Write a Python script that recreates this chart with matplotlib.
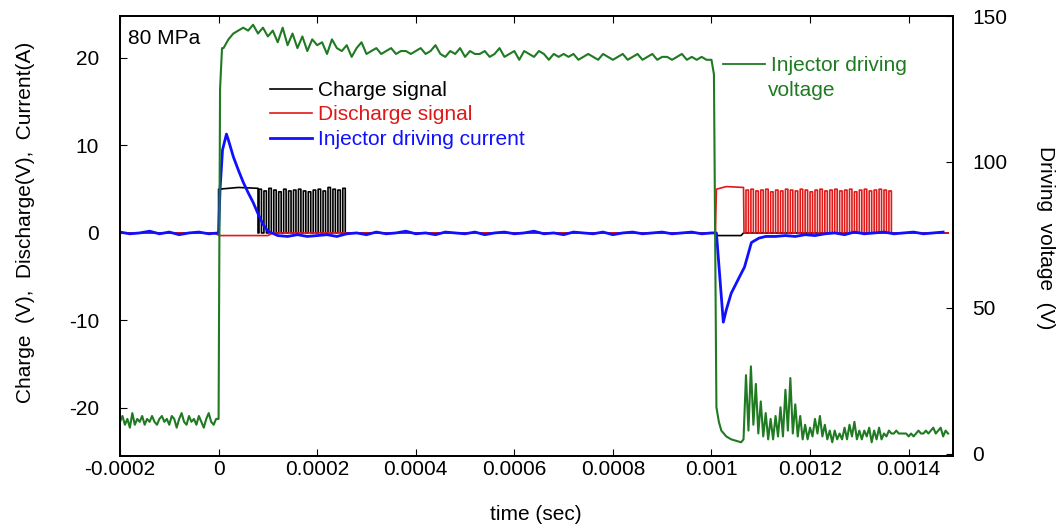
import numpy as np
import matplotlib
matplotlib.use("Agg")
import matplotlib.pyplot as plt
from matplotlib.lines import Line2D

plt.rcParams['font.family'] = ['Liberation Sans', 'DejaVu Sans']
plt.rcParams['font.size'] = 15
plt.rcParams['axes.unicode_minus'] = False

# values (80 MPa case)
# injector driving voltage (V), right axis
volt_pre = [11, 13, 10, 12, 9, 14, 10, 12, 11, 13, 10, 12, 11, 13, 11, 10, 12, 13, 11, 12,
            10, 13, 12, 9, 12, 14, 11, 10, 13, 11, 12, 10, 13, 11, 9, 12, 14, 11, 10, 12]  # -0.0002 .. -0.000005, step 5e-6
volt_rise_t = [0.0, 0.000003, 0.000007]
volt_rise = [12, 125, 139]
volt_on = [139, 142, 144, 145, 146, 145, 147, 144, 146, 143,
           145, 141, 146, 140, 144, 139, 143, 138, 142, 140,
           141, 137, 142, 139, 138, 140, 136, 139, 141, 137,
           138, 139, 137, 138, 139, 137, 138, 138, 137, 138,
           139, 137, 138, 140, 137, 136, 138, 137, 139, 136,
           138, 137, 137, 138, 136, 137, 139, 136, 137, 138,
           135, 138, 137, 136, 138, 137, 135, 137, 136, 137,
           136, 137, 135, 136, 137, 136, 135, 137, 136, 135,
           136, 137, 135, 136, 137, 135, 136, 137, 135, 136,
           136, 135, 136, 137, 135, 136, 135, 136, 135, 135]  # 0.00001 .. 0.001
volt_drop_t = [0.001005, 0.00101, 0.001015, 0.00102, 0.00103, 0.00104, 0.00105, 0.00106]
volt_drop = [130, 16, 11, 8, 6, 5, 4.5, 4]
volt_off = [5, 27, 8, 30, 10, 24, 7, 18, 6, 14,
            5, 12, 5, 13, 6, 16, 6, 22, 8, 26,
            7, 17, 6, 13, 5, 10, 5, 9, 6, 12,
            7, 13, 6, 10, 5, 8, 4, 8, 5, 7,
            5, 9, 5, 10, 6, 11, 5, 8, 5, 8,
            6, 9, 4, 8, 5, 9, 5, 7, 6, 8,
            7, 7, 8, 7, 7, 7, 7, 6, 7, 6,
            7, 8, 7, 7, 8, 7, 8, 9, 7, 8,
            9, 6, 8, 7]  # 0.001065 .. 0.00148, step 5e-6

# injector driving current (A)
cur_pre = [0.1, -0.1, 0.0, 0.2, -0.1, 0.1, -0.2, 0.0, 0.1, -0.1]  # -0.0002 .. -0.00002, step 2e-5
cur_rise_t = [0.0, 0.000003, 0.000008, 0.000016, 0.00002, 0.00003, 0.00004, 0.00005,
              0.00006, 0.00007, 0.00008, 0.00009, 0.0001]
cur_rise = [0.0, 5.0, 9.5, 11.3, 10.6, 8.7, 7.2, 5.8, 4.6, 3.5, 2.2, 1.0, 0.2]
cur_mid = [-0.3, -0.4, -0.2, -0.4, -0.3, -0.2, -0.4, -0.1, 0.0, -0.2,
           0.1, -0.1, 0.0, 0.2, -0.1, 0.0, -0.2, 0.1, 0.0, -0.1,
           0.1, -0.2, 0.0, 0.1, -0.1, 0.0, 0.2, -0.1, 0.0, -0.2,
           0.1, 0.0, -0.1, 0.1, -0.2, 0.0, 0.1, -0.1, 0.0, 0.1,
           -0.1, 0.0, 0.1, -0.1, 0.0]  # 0.00012 .. 0.001, step 2e-5
cur_fall_t = [0.00101, 0.001024, 0.00103, 0.00104, 0.001057, 0.001067, 0.001075,
              0.001081, 0.001096, 0.00111]
cur_fall = [0.0, -10.2, -8.8, -6.9, -5.0, -3.9, -2.3, -1.1, -0.6, -0.4]
cur_post = [-0.4, -0.3, -0.4, -0.2, -0.3, -0.1, 0.0, -0.2, 0.1, -0.1,
            0.0, 0.1, -0.1, 0.0, 0.1, -0.1, 0.0, 0.1]  # 0.00113 .. 0.00147, step 2e-5

# charge signal (V)
charge_t = [-0.0002, -0.00001, 0.0, 0.0, 0.00004, 0.00008, 0.00008]
charge = [0.0, 0.0, 0.0, 5.0, 5.2, 5.1, 0.0]
charge_pulses = [5.0, 4.8, 5.1, 4.9, 4.7, 5.0, 4.8, 4.9, 5.0,
                 4.8, 4.7, 4.9, 5.0, 4.8, 5.2, 5.0, 4.9, 5.1]
charge_tail_t = [0.00026, 0.001008, 0.001012, 0.00106, 0.001065, 0.00148]
charge_tail = [0.0, 0.0, -0.3, -0.3, 0.0, 0.0]

# discharge signal (V)
dis_t = [-0.0002, -0.00001, 0.000002, 0.0001, 0.00011, 0.001008, 0.00101, 0.00103, 0.001065, 0.001066]
dis = [0.0, 0.0, -0.3, -0.3, 0.0, 0.0, 5.0, 5.3, 5.2, 0.0]
dis_pulses = [4.9, 5.0, 4.8, 4.9, 5.0, 4.7, 4.9, 4.8, 5.0, 4.9,
              4.8, 5.0, 4.9, 4.7, 4.9, 5.0, 4.8, 4.9, 5.0, 4.8,
              4.9, 5.0, 4.7, 4.9, 5.0, 4.8, 4.9, 5.0, 4.9, 4.8]
dis_tail_t = [0.001366, 0.00148]
dis_tail = [0.0, 0.0]

pulse_period = 0.00001


def pulse_train(t0, heights, duty=0.5):
    t, y = [], []
    for k, h in enumerate(heights):
        s = t0 + k * pulse_period
        e = s + duty * pulse_period
        t += [s, s, e, e]
        y += [0.0, h, h, 0.0]
    return t, y


# assemble traces
vt = np.concatenate([-0.0002 + 0.000005 * np.arange(len(volt_pre)), volt_rise_t,
                     0.00001 * np.arange(1, len(volt_on) + 1), volt_drop_t,
                     0.001065 + 0.000005 * np.arange(len(volt_off))])
vv = np.concatenate([volt_pre, volt_rise, volt_on, volt_drop, volt_off])

ct = np.concatenate([-0.0002 + 0.00002 * np.arange(len(cur_pre)), cur_rise_t,
                     0.00012 + 0.00002 * np.arange(len(cur_mid)), cur_fall_t,
                     0.00113 + 0.00002 * np.arange(len(cur_post))])
cv = np.concatenate([cur_pre, cur_rise, cur_mid, cur_fall, cur_post])

pt, pv = pulse_train(0.000082, charge_pulses)
cht = np.concatenate([charge_t, pt, charge_tail_t])
chv = np.concatenate([charge, pv, charge_tail])

pt, pv = pulse_train(0.00107, dis_pulses)
dst = np.concatenate([dis_t, pt, dis_tail_t])
dsv = np.concatenate([dis, pv, dis_tail])

green = '#1f7a22'

fig = plt.figure(figsize=(10.62, 5.28), dpi=100)
ax = fig.add_axes([120 / 1062, 1 - 456 / 528, 833 / 1062, 440 / 528])
ax2 = ax.twinx()

ax.plot(cht, chv, color='black', lw=1.2, label='Charge signal')
ax.plot(dst, dsv, color='#e01818', lw=1.2, label='Discharge signal')
ax.plot(ct, cv, color='#1010ff', lw=2.0, label='Injector driving current')
ax2.plot(vt, vv, color=green, lw=1.5)

ax.set_xlim(-0.0002, 0.00149)
ax.set_ylim(-25.5, 24.8)
ax2.set_ylim(-0.7, 150)

ax.set_xticks([-0.0002, 0, 0.0002, 0.0004, 0.0006, 0.0008, 0.001, 0.0012, 0.0014])
ax.set_xticklabels(['-0.0002', '0', '0.0002', '0.0004', '0.0006', '0.0008', '0.001', '0.0012', '0.0014'])
ax.set_yticks([-20, -10, 0, 10, 20])
ax2.set_yticks([0, 50, 100, 150])

ax.tick_params(axis='x', direction='in', length=5, top=True, pad=3)
ax.tick_params(axis='y', direction='in', length=5, pad=15)
ax2.tick_params(axis='y', direction='in', length=5, pad=14)
for a in (ax, ax2):
    for s in a.spines.values():
        s.set_linewidth(1.3)

fig.text(26 / 1062, 1 - 222 / 528, 'Charge  (V),  Discharge(V),  Current(A)',
         rotation=90, ha='center', va='center')
fig.text(1045 / 1062, 1 - 238 / 528, 'Driving  voltage  (V)',
         rotation=270, ha='center', va='center')
fig.text(536 / 1062, 1 - 515 / 528, 'time (sec)', ha='center', va='center')
fig.text(128 / 1062, 1 - 38 / 528, '80 MPa', ha='left', va='center')

ax.legend(loc='upper left', bbox_to_anchor=(270 / 1062, 1 - 81 / 528),
          bbox_transform=fig.transFigure, frameon=False, borderpad=0,
          borderaxespad=0, handlelength=2, handletextpad=0.3,
          labelspacing=0.26, labelcolor='linecolor')

vleg = ax2.legend([Line2D([], [], color=green, lw=1.3)], ['Injector driving'],
                  loc='upper left', bbox_to_anchor=(723 / 1062, 1 - 56 / 528),
                  bbox_transform=fig.transFigure, frameon=False, borderpad=0,
                  borderaxespad=0, handlelength=2, handletextpad=0.3,
                  labelcolor=green)
fig.text(768 / 1062, 1 - 90 / 528, 'voltage', color=green, ha='left', va='center')

fig.savefig('out.png', dpi=100)
